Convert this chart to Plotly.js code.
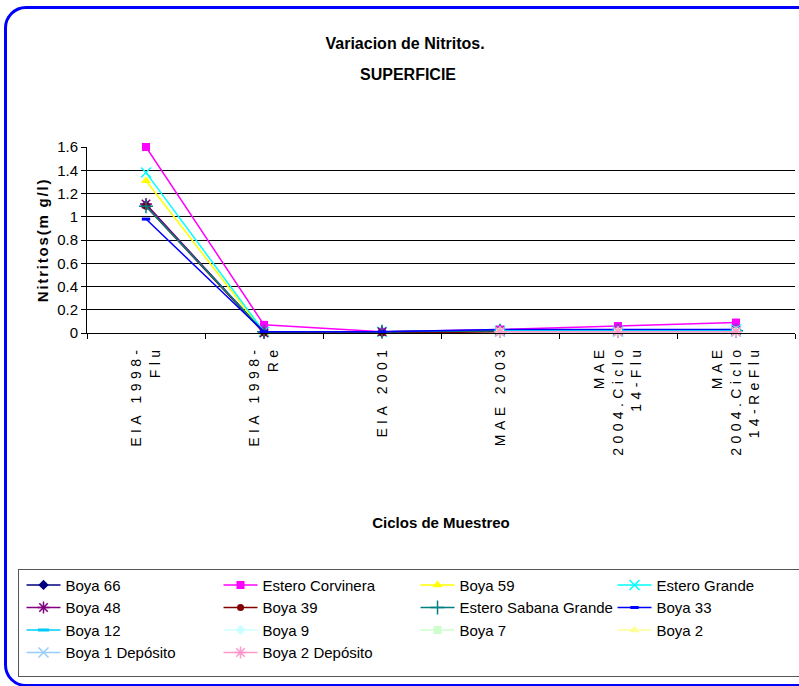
<!DOCTYPE html>
<html>
<head>
<meta charset="utf-8">
<script src="https://cdn.plot.ly/plotly-3.0.1.min.js"></script>
<style>
  html, body { margin: 0; padding: 0; background: #fff; overflow: hidden; }
  #wrap { position: relative; width: 799px; height: 686px; overflow: hidden; }
  #chart { position: absolute; left: 0; top: 0; width: 799px; height: 686px; }
  #frame { position: absolute; left: 4px; top: 6px; width: 840px; height: 675px;
           border: 3px solid #0000FF; border-radius: 22px; pointer-events: none; }
  #legbox { position: absolute; left: 18px; top: 569px; width: 840px; height: 106px;
            border: 1.5px solid #555; pointer-events: none; }
  .ytitle { letter-spacing: 1.8px; }
  .xtick text { letter-spacing: 4.4px; }
</style>
</head>
<body>
<div id="wrap">
  <div id="chart"></div>
  <div id="frame"></div>
  <div id="legbox"></div>
</div>
<script>
const categories = ["EIA 1998-<br>Flu", "EIA 1998-<br>Re", "EIA 2001", "MAE 2003",
                    "MAE<br>2004.Ciclo<br>14-Flu", "MAE<br>2004.Ciclo<br>14-ReFlu"];

const boya66        = [1.10, 0.01, 0.01, 0.02, 0.02, 0.02];
const esteroCorv    = [1.60, 0.07, 0.01, 0.03, 0.06, 0.09];
const boya59        = [1.31, 0.00, 0.00, 0.02, 0.02, 0.02];
const esteroGrande  = [1.38, 0.01, 0.01, 0.02, 0.02, 0.03];
const boya48        = [1.11, 0.00, 0.01, 0.02, 0.02, 0.02];
const boya39        = [1.09, 0.00, 0.00, 0.01, 0.01, 0.01];
const esteroSabana  = [1.09, 0.01, 0.01, 0.02, 0.02, 0.02];
const boya33        = [0.98, 0.01, 0.01, 0.03, 0.03, 0.03];
const boya12        = [null, null, null, 0.02, 0.02, 0.02];
const boya9         = [null, null, null, 0.01, 0.01, 0.01];
const boya7         = [null, null, null, 0.01, 0.01, 0.01];
const boya2         = [null, null, null, 0.01, 0.01, 0.01];
const boya1Dep      = [null, null, null, 0.01, 0.01, 0.01];
const boya2Dep      = [null, null, null, 0.01, 0.01, 0.01];

const seriesNames = ["Boya 66", "Estero Corvinera", "Boya 59", "Estero Grande",
                     "Boya 48", "Boya 39", "Estero Sabana Grande", "Boya 33",
                     "Boya 12", "Boya 9", "Boya 7", "Boya 2",
                     "Boya 1 Depósito", "Boya 2 Depósito"];
const seriesValues = [boya66, esteroCorv, boya59, esteroGrande, boya48, boya39,
                      esteroSabana, boya33, boya12, boya9, boya7, boya2, boya1Dep, boya2Dep];
const colors = ["#000080", "#FF00FF", "#FFFF00", "#00FFFF", "#800080", "#800000",
                "#008080", "#0000FF", "#00CCFF", "#CCFFFF", "#CCFFCC", "#FFFF99",
                "#99CCFF", "#FF99CC"];
const symbols = ["diamond", "square", "triangle-up", "x-thin-open", "asterisk-open", "circle",
                 "cross-thin-open", "line-ew-open", "line-ew-open", "diamond", "square", "triangle-up",
                 "x-thin-open", "asterisk-open"];
const sizes = [8, 8, 9, 10, 10, 7, 10, 6, 8, 8, 8, 9, 10, 10];

const traces = seriesNames.map((name, i) => {
  const open = symbols[i].indexOf("open") >= 0;
  return {
    type: "scatter", mode: "lines+markers", name: name,
    x: categories, y: seriesValues[i], cliponaxis: false,
    line: { color: colors[i], width: 1.5 },
    marker: { symbol: symbols[i], size: sizes[i], color: colors[i],
              line: { color: colors[i], width: open ? (symbols[i].indexOf("line-ew") === 0 ? 3 : 1.5) : 0 } },
    connectgaps: false
  };
});

const layout = {
  width: 799, height: 686,
  margin: { l: 87, r: 4, t: 147, b: 353, autoexpand: false },
  paper_bgcolor: "#fff", plot_bgcolor: "#fff",
  font: { family: "Liberation Sans, Arial, sans-serif", color: "#000" },
  title: { text: "<b>Variacion de Nitritos.</b>", x: 0.507, xanchor: "center",
           y: 0.937, yanchor: "middle", font: { size: 16, color: "#000" } },
  annotations: [{ text: "<b>SUPERFICIE</b>", xref: "paper", yref: "paper",
                  x: 0.454, y: 1.39, xanchor: "center", yanchor: "middle",
                  showarrow: false, font: { size: 16, color: "#000" } }],
  showlegend: true,
  legend: { orientation: "h", x: -0.0925, xanchor: "left", y: -1.267, yanchor: "top",
            entrywidth: 148, entrywidthmode: "pixels", itemwidth: 34,
            font: { size: 15, color: "#000" }, bgcolor: "rgba(0,0,0,0)", borderwidth: 0,
            traceorder: "normal" },
  xaxis: {
    type: "category", range: [-0.5, 5.5], tickangle: -90,
    showgrid: false, showline: true, linecolor: "#000", linewidth: 1,
    ticks: "outside", tickson: "boundaries", ticklen: 5, tickcolor: "#000",
    tickfont: { size: 14 }, ticklabelstandoff: 6,
    title: { text: "<b>Ciclos de Muestreo</b>", font: { size: 15 }, standoff: 62 },
    automargin: false, zeroline: false
  },
  yaxis: {
    range: [0, 1.6], dtick: 0.2,
    showgrid: true, gridcolor: "#000", gridwidth: 1,
    showline: true, linecolor: "#000", linewidth: 1,
    ticks: "outside", ticklen: 5, tickcolor: "#000",
    tickfont: { size: 15 },
    title: { text: "<b>Nitritos(m g/l)</b>", font: { size: 15 }, standoff: 4 },
    automargin: false, zeroline: false
  }
};

Plotly.newPlot("chart", traces, layout, { displayModeBar: false, staticPlot: true });
</script>
</body>
</html>
